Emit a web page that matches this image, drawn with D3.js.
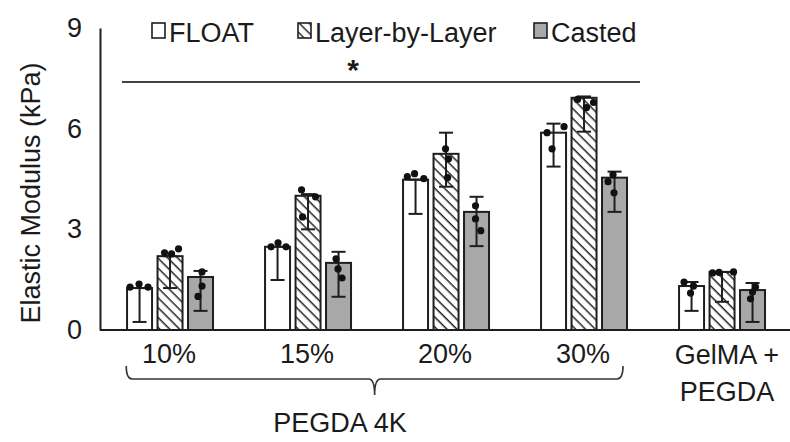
<!DOCTYPE html>
<html>
<head>
<meta charset="utf-8">
<script src="https://cdn.jsdelivr.net/npm/d3@7"></script>
<style>
  html, body { margin: 0; padding: 0; background: #fff; }
  svg { display: block; font-family: "Liberation Sans", Arial, Helvetica, sans-serif; }
</style>
</head>
<body>
<svg id="chart" width="790" height="442"></svg>
<script>
// ---------------- data ----------------
const categories = ["10%", "15%", "20%", "30%", "GelMA + PEGDA"];
const series = ["FLOAT", "Layer-by-Layer", "Casted"];
const yTicks = [0, 3, 6, 9];

const floatMean  = [1.25, 2.48, 4.48, 5.88, 1.31];
const lblMean    = [2.20, 4.00, 5.25, 6.92, 1.73];
const castedMean = [1.58, 2.00, 3.52, 4.54, 1.19];

const floatErrLow  = [0.24, 1.49, 3.46, 4.87, 0.57];
const floatErrHigh = [1.25, 2.48, 4.48, 6.15, 1.43];
const lblErrLow    = [1.25, 3.00, 4.27, 5.91, 0.84];
const lblErrHigh   = [2.20, 4.05, 5.88, 6.96, 1.73];
const castedErrLow  = [0.57, 0.99, 2.50, 3.52, 0.24];
const castedErrHigh = [1.76, 2.33, 3.97, 4.72, 1.40];

const floatPoints  = [[1.28, 1.37, 1.28], [2.48, 2.60, 2.48], [4.57, 4.66, 4.51], [5.88, 5.40, 6.06], [1.43, 1.10, 1.31]];
const lblPoints    = [[2.30, 2.27, 2.42], [4.18, 3.97, 3.37], [5.40, 5.10, 4.54], [6.87, 6.63, 6.78], [1.70, 1.72, 1.73]];
const castedPoints = [[1.73, 1.31, 1.00], [2.12, 1.82, 1.55], [3.70, 3.31, 2.96], [4.42, 4.63, 4.09], [1.13, 0.93, 1.28]];

// horizontal place of each replicate point inside its bar (fraction of bar width)
const floatJitter  = [[0.12, 0.48, 0.84], [0.24, 0.52, 0.84], [0.17, 0.46, 0.83], [0.24, 0.44, 0.92], [0.20, 0.46, 0.58]];
const lblJitter    = [[0.28, 0.56, 0.84], [0.24, 0.80, 0.28], [0.48, 0.60, 0.56], [0.24, 0.60, 0.88], [0.12, 0.38, 0.96]];
const castedJitter = [[0.56, 0.56, 0.40], [0.40, 0.48, 0.64], [0.46, 0.46, 0.67], [0.24, 0.44, 0.48], [0.50, 0.42, 0.62]];

const significanceLabel = "*";
const groupLabel = "PEGDA 4K";
const yTitle = "Elastic Modulus (kPa)";

// ---------------- build ----------------
const means = [floatMean, lblMean, castedMean];
const lows = [floatErrLow, lblErrLow, castedErrLow];
const highs = [floatErrHigh, lblErrHigh, castedErrHigh];
const pts = [floatPoints, lblPoints, castedPoints];
const jit = [floatJitter, lblJitter, castedJitter];

const rows = [];
categories.forEach((c, ci) => {
  series.forEach((s, si) => {
    rows.push({cat: c, ser: s, si, v: means[si][ci], lo: lows[si][ci], hi: highs[si][ci],
      points: pts[si][ci].map((p, k) => ({v: p, j: jit[si][ci][k]}))});
  });
});

const svg = d3.select("#chart");
const mLeft = 100, mRight = 790, mTop = 28, mBottom = 330;
const textColor = "#1b1b1b";
const strokeColor = "#1e1e1e";

const x0 = d3.scaleBand().domain(categories).range([mLeft, mRight]).padding(0);
const bw = x0.bandwidth();
const x1 = d3.scaleBand().domain(series).range([bw * 0.196, bw * 0.819]).paddingInner(0.18).paddingOuter(0);
const y = d3.scaleLinear().domain([0, 9]).range([mBottom, mTop]);

// hatch pattern (lines running top-left to bottom-right)
const defs = svg.append("defs");
const pat = defs.append("pattern").attr("id", "hatch").attr("patternUnits", "userSpaceOnUse")
  .attr("width", 7).attr("height", 7).attr("patternTransform", "rotate(45)");
pat.append("rect").attr("width", 7).attr("height", 7).attr("fill", "#fff");
pat.append("line").attr("x1", 0).attr("y1", 0).attr("x2", 7).attr("y2", 0)
  .attr("stroke", "#222").attr("stroke-width", 3);

const fills = {"FLOAT": "#ffffff", "Layer-by-Layer": "url(#hatch)", "Casted": "#a8a8a8"};

// axes
const yAxis = d3.axisLeft(y).tickValues(yTicks).tickSize(0).tickPadding(18).tickFormat(d3.format("d"));
const gy = svg.append("g").attr("transform", `translate(${mLeft},0)`).call(yAxis);
gy.select(".domain").attr("stroke", strokeColor).attr("stroke-width", 2);
gy.selectAll("text").attr("font-size", 27).attr("fill", textColor).attr("font-family", "Liberation Sans, Arial, sans-serif");

// baseline
svg.append("line").attr("x1", mLeft).attr("x2", mRight).attr("y1", y(0)).attr("y2", y(0))
  .attr("stroke", strokeColor).attr("stroke-width", 2);

// y title
svg.append("text").attr("transform", `translate(40,${(mTop + mBottom) / 2 + 14}) rotate(-90)`)
  .attr("text-anchor", "middle").attr("font-size", 27).attr("fill", textColor).text(yTitle);

// bars
const gBars = svg.append("g");
gBars.selectAll("rect.bar").data(rows).join("rect").attr("class", "bar")
  .attr("x", d => x0(d.cat) + x1(d.ser))
  .attr("y", d => y(d.v))
  .attr("width", x1.bandwidth())
  .attr("height", d => y(0) - y(d.v))
  .attr("fill", d => fills[d.ser])
  .attr("stroke", strokeColor).attr("stroke-width", 2);

// error bars
const cap = 7;
const gErr = svg.append("g").attr("stroke", strokeColor).attr("stroke-width", 2);
rows.forEach(d => {
  const cx = x0(d.cat) + x1(d.ser) + x1.bandwidth() / 2;
  gErr.append("line").attr("x1", cx).attr("x2", cx).attr("y1", y(d.lo)).attr("y2", y(d.hi));
  gErr.append("line").attr("x1", cx - cap).attr("x2", cx + cap).attr("y1", y(d.lo)).attr("y2", y(d.lo));
  gErr.append("line").attr("x1", cx - cap).attr("x2", cx + cap).attr("y1", y(d.hi)).attr("y2", y(d.hi));
});

// points
const gPts = svg.append("g");
rows.forEach(d => {
  gPts.append("g").selectAll("circle").data(d.points).join("circle")
    .attr("cx", p => x0(d.cat) + x1(d.ser) + p.j * x1.bandwidth())
    .attr("cy", p => y(p.v))
    .attr("r", 3.6).attr("fill", "#111");
});

// x category labels
const xl = svg.append("g").attr("font-size", 27).attr("fill", textColor).attr("text-anchor", "middle");
categories.slice(0, 4).forEach(c => {
  xl.append("text").attr("x", x0(c) + bw / 2).attr("y", 363).text(c);
});
const last = categories[4];
const parts = ["GelMA +", "PEGDA"];
xl.append("text").attr("x", x0(last) + bw / 2 + 6).attr("y", 364).text(parts[0]);
xl.append("text").attr("x", x0(last) + bw / 2 + 6).attr("y", 401).text(parts[1]);

// brace under PEGDA 4K
const bx1 = x0(categories[0]) + bw * 0.19, bx2 = x0(categories[3]) + bw * 0.79;
const by = 379, bmid = (bx1 + bx2) / 2;
svg.append("path")
  .attr("d", `M${bx1},366 Q${bx1},${by} ${bx1 + 6},${by} L${bmid - 6},${by} Q${bmid},${by} ${bmid},${by + 16} Q${bmid},${by} ${bmid + 6},${by} L${bx2 - 6},${by} Q${bx2},${by} ${bx2},366`)
  .attr("fill", "none").attr("stroke", "#333").attr("stroke-width", 1.6);
svg.append("text").attr("x", 340).attr("y", 432).attr("text-anchor", "middle")
  .attr("font-size", 27).attr("fill", textColor).text(groupLabel);

// significance line
svg.append("line").attr("x1", 122).attr("x2", 640).attr("y1", 82).attr("y2", 82)
  .attr("stroke", "#444").attr("stroke-width", 2);
svg.append("text").attr("x", 353).attr("y", 80).attr("text-anchor", "middle")
  .attr("font-size", 30).attr("font-weight", "bold").attr("fill", textColor).text(significanceLabel);

// legend
const legX = [152, 298, 534];
const lg = svg.append("g");
series.forEach((s, i) => {
  lg.append("rect").attr("x", legX[i]).attr("y", 23).attr("width", 13).attr("height", 15)
    .attr("fill", fills[s]).attr("stroke", strokeColor).attr("stroke-width", 1.6);
  lg.append("text").attr("x", legX[i] + 17).attr("y", 42).attr("font-size", 27)
    .attr("fill", textColor).text(s);
});
</script>
</body>
</html>
